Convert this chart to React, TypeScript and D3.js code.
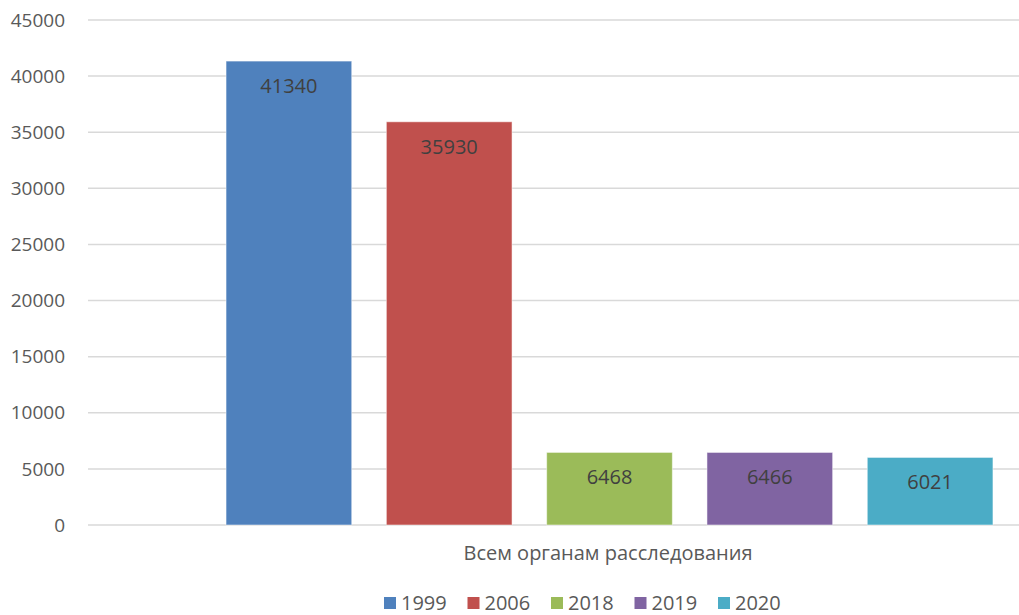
import React from "react";
import * as d3 from "d3";

const category = "Всем органам расследования";
const seriesNames = ["1999", "2006", "2018", "2019", "2020"];
const seriesValues = [41340, 35930, 6468, 6466, 6021];
const seriesColors = ["#4F81BD", "#C0504D", "#9BBB59", "#8064A2", "#4BACC6"];
const yTicks = [0, 5000, 10000, 15000, 20000, 25000, 30000, 35000, 40000, 45000];

const W = 1019;
const H = 615;
const FONT = "'Open Sans', 'Liberation Sans', sans-serif";

export default function App() {
  const y = d3.scaleLinear().domain([0, 45000]).range([525, 20]);
  const x0 = d3.scaleBand().domain([category]).range([88, 1131]).paddingInner(0).paddingOuter(0.18);
  const x1 = d3
    .scaleBand()
    .domain(seriesNames)
    .range([0, x0.bandwidth()])
    .paddingInner(0.216)
    .paddingOuter(0);
  const gx = x0(category) as number;

  return (
    <svg
      width={W}
      height={H}
      style={{ position: "absolute", left: 0, top: 0, display: "block", background: "#fff" }}
      fontFamily={FONT}
    >
      {yTicks.map((t) => (
        <g key={t}>
          <line x1={88} x2={W} y1={y(t)} y2={y(t)} stroke="#D9D9D9" strokeWidth={1.5} />
          <text x={65} y={y(t)} dy="0.35em" textAnchor="end" fontSize={19} fill="#595959">
            {t}
          </text>
        </g>
      ))}
      {seriesNames.map((s, i) => {
        const bx = gx + (x1(s) as number);
        const bw = x1.bandwidth();
        const by = y(seriesValues[i]);
        return (
          <g key={s}>
            <rect
              x={bx}
              y={by}
              width={bw}
              height={y(0) - by}
              fill={seriesColors[i]}
              stroke="rgba(255,255,255,0.5)"
              strokeWidth={1}
            />
            <text
              x={bx + bw / 2}
              y={by + 25}
              textAnchor="middle"
              dy="0.35em"
              fontSize={20}
              fill="#404040"
            >
              {seriesValues[i]}
            </text>
          </g>
        );
      })}
      <text x={608} y={553} textAnchor="middle" dy="0.35em" fontSize={20} fill="#595959">
        {category}
      </text>
      {seriesNames.map((s, i) => {
        const lx = 384 + i * 83.5;
        return (
          <g key={"l" + s}>
            <rect x={lx} y={597} width={12} height={12} fill={seriesColors[i]} />
            <text x={lx + 17} y={603} dy="0.35em" fontSize={20} fill="#595959">
              {s}
            </text>
          </g>
        );
      })}
    </svg>
  );
}
